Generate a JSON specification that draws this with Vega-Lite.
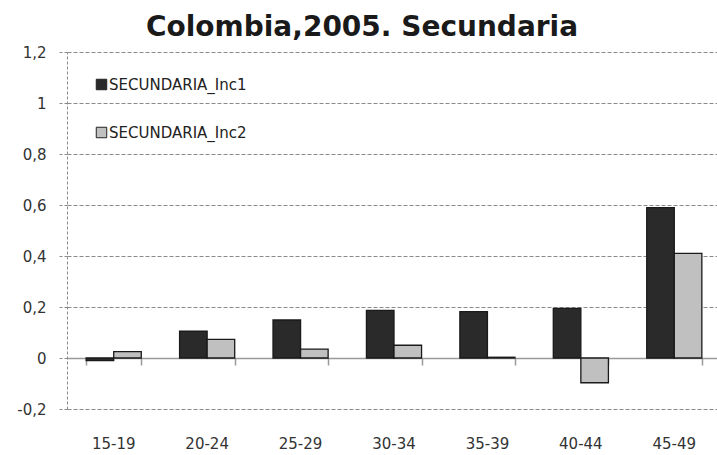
{
  "$schema": "https://vega.github.io/schema/vega-lite/v6.json",
  "width": 654,
  "height": 357,
  "autosize": "none",
  "padding": {"left": 67, "top": 52, "right": 0, "bottom": 46},
  "background": "white",
  "title": {
    "text": "Colombia,2005. Secundaria",
    "font": "DejaVu Sans",
    "fontSize": 28,
    "fontWeight": "bold",
    "color": "#1a1a1a",
    "anchor": "middle",
    "dx": -32,
    "offset": 3
  },
  "data": {
    "values": [
      {"edad": "15-19", "serie": "SECUNDARIA_Inc1", "valor": -0.01},
      {"edad": "15-19", "serie": "SECUNDARIA_Inc2", "valor": 0.025},
      {"edad": "20-24", "serie": "SECUNDARIA_Inc1", "valor": 0.105},
      {"edad": "20-24", "serie": "SECUNDARIA_Inc2", "valor": 0.073},
      {"edad": "25-29", "serie": "SECUNDARIA_Inc1", "valor": 0.149},
      {"edad": "25-29", "serie": "SECUNDARIA_Inc2", "valor": 0.035},
      {"edad": "30-34", "serie": "SECUNDARIA_Inc1", "valor": 0.187},
      {"edad": "30-34", "serie": "SECUNDARIA_Inc2", "valor": 0.05},
      {"edad": "35-39", "serie": "SECUNDARIA_Inc1", "valor": 0.182},
      {"edad": "35-39", "serie": "SECUNDARIA_Inc2", "valor": 0.003},
      {"edad": "40-44", "serie": "SECUNDARIA_Inc1", "valor": 0.195},
      {"edad": "40-44", "serie": "SECUNDARIA_Inc2", "valor": -0.097},
      {"edad": "45-49", "serie": "SECUNDARIA_Inc1", "valor": 0.59},
      {"edad": "45-49", "serie": "SECUNDARIA_Inc2", "valor": 0.41}
    ]
  },
  "layer": [
    {
      "mark": {"type": "bar", "opacity": 0},
      "encoding": {
        "x": {
          "field": "edad",
          "type": "nominal",
          "scale": {"paddingInner": 0.41, "paddingOuter": 0.205},
          "axis": {
            "orient": "bottom",
            "offset": -51,
            "title": null,
            "labels": false,
            "domain": true,
            "domainColor": "#9a9a9a",
            "domainWidth": 1.5,
            "ticks": true,
            "tickBand": "extent",
            "tickSize": 7,
            "tickColor": "#9a9a9a",
            "tickWidth": 1.5,
            "grid": false
          }
        },
        "y": {"field": "valor", "type": "quantitative"}
      }
    },
    {
      "mark": {"type": "bar", "stroke": "#1a1a1a", "strokeWidth": 1.3},
      "encoding": {
        "x": {
          "field": "edad",
          "type": "nominal",
          "axis": {
            "orient": "bottom",
            "title": null,
            "labelAngle": 0,
            "labelFont": "DejaVu Sans",
            "labelFontSize": 15,
            "labelColor": "#333333",
            "labelPadding": 27,
            "domain": false,
            "ticks": false,
            "grid": false
          }
        },
        "xOffset": {"field": "serie", "type": "nominal"},
        "y": {
          "field": "valor",
          "type": "quantitative",
          "scale": {"domain": [-0.2, 1.2], "nice": false},
          "axis": {
            "title": null,
            "values": [-0.2, 0, 0.2, 0.4, 0.6, 0.8, 1, 1.2],
            "labelExpr": "replace(replace(format(datum.value, '.1~f'), '.', ','), '\u2212', '-')",
            "labelFont": "DejaVu Sans",
            "labelFontSize": 15,
            "labelColor": "#333333",
            "labelPadding": 12,
            "domain": true,
            "domainColor": "#8a8a8a",
            "domainDash": [3, 2],
            "domainWidth": 1,
            "ticks": true,
            "tickSize": 9,
            "tickColor": "#8a8a8a",
            "tickDash": [3, 2],
            "grid": true,
            "gridColor": "#8a8a8a",
            "gridDash": [4, 2],
            "gridWidth": 1
          }
        },
        "color": {
          "field": "serie",
          "type": "nominal",
          "scale": {"domain": ["SECUNDARIA_Inc1", "SECUNDARIA_Inc2"], "range": ["#2a2a2a", "#c0c0c0"]},
          "legend": {
            "title": null,
            "orient": "none",
            "legendX": 27,
            "legendY": 25,
            "direction": "vertical",
            "symbolType": "square",
            "symbolSize": 110,
            "symbolStrokeColor": "#222222",
            "symbolStrokeWidth": 1,
            "labelFont": "DejaVu Sans",
            "labelFontSize": 15,
            "labelColor": "#222222",
            "labelOffset": 0,
            "rowPadding": 32
          }
        }
      }
    }
  ],
  "resolve": {"axis": {"x": "independent"}},
  "config": {"view": {"stroke": null}}
}
